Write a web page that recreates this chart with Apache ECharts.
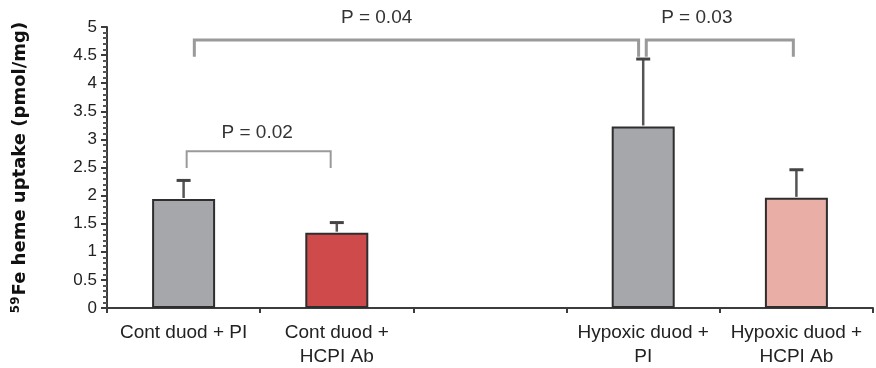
<!DOCTYPE html>
<html>
<head>
<meta charset="utf-8">
<script src="https://cdn.jsdelivr.net/npm/echarts@6/dist/echarts.min.js"></script>
<style>
  html, body { margin: 0; background: #fff; }
  #chart { width: 876px; height: 368px; }
</style>
</head>
<body>
<div id="chart"></div>
<script>
  const categories = ["Cont duod + PI", "Cont duod +\nHCPI Ab", "", "Hypoxic duod +\nPI", "Hypoxic duod +\nHCPI Ab"];
  const means = [1.94, 1.34, null, 3.23, 1.96];
  const upper = [2.27, 1.52, null, 4.43, 2.46];
  const barColors = ["#a6a7aa", "#cf4a4a", null, "#a6a7aa", "#e9aea5"];

  // significance brackets, x in category units (0..5)
  const bracketX0 = [0.52, 0.57, 3.52];
  const bracketX1 = [1.46, 3.47, 4.48];
  const bracketTop = [2.79, 4.77, 4.77];
  const bracketLeg = [2.49, 4.47, 4.47];
  const bracketText = ["P = 0.02", "P = 0.04", "P = 0.03"];
  const labelX = [0.98, 1.76, 3.85];
  const labelY = [3.11, 5.16, 5.16];

  const chart = echarts.init(document.getElementById("chart"));
  const FONT = "Liberation Sans, Arial, sans-serif";

  const barData = means.map((v, i) => v == null ? "-" : { value: v, itemStyle: { color: barColors[i] } });
  const errData = means.map((v, i) => v == null ? null : [i, v, upper[i]]).filter(Boolean);
  const brData = bracketText.map((t, i) => [bracketX0[i], bracketX1[i], bracketTop[i], bracketLeg[i], labelX[i], labelY[i], i]);

  chart.setOption({
    animation: false,
    grid: { left: 107, right: 3, top: 27, bottom: 60, outerBoundsMode: "none" },
    xAxis: [
      {
        type: "category", data: categories,
        axisLine: { lineStyle: { color: "#3c3c3c", width: 2 } },
        axisTick: { show: true, length: 5, lineStyle: { color: "#3c3c3c", width: 2 } },
        axisLabel: { fontFamily: FONT, fontSize: 19, color: "#222", margin: 13, lineHeight: 24, interval: 0 },
      },
      { type: "value", min: 0, max: 5, show: false },
    ],
    yAxis: {
      type: "value", min: 0, max: 5, interval: 0.5,
      name: "{sup|59}{b|Fe heme uptake (pmol/mg)}",
      nameLocation: "middle", nameGap: 77, nameRotate: 90,
      nameTextStyle: {
        rich: {
          sup: { fontFamily: "DejaVu Sans", fontWeight: "bold", fontSize: 12, color: "#111", verticalAlign: "top", padding: [0, 1, 8, 0] },
          b: { fontFamily: "DejaVu Sans", fontWeight: "bold", fontSize: 18, color: "#111" },
        },
      },
      axisLine: { show: true, lineStyle: { color: "#3c3c3c", width: 2 } },
      axisTick: { show: true, length: 6, lineStyle: { color: "#3c3c3c", width: 2 } },
      minorTick: { show: true, splitNumber: 5, length: 4, lineStyle: { color: "#555", width: 2 } },
      splitLine: { show: false },
      axisLabel: { fontFamily: FONT, fontSize: 17, color: "#222", margin: 10 },
    },
    series: [
      {
        type: "bar", data: barData, barWidth: 63,
        itemStyle: { borderColor: "#2e2e2e", borderWidth: 2 },
      },
      {
        type: "custom", data: errData, z: 3,
        renderItem(params, api) {
          const lo = api.coord([api.value(0), api.value(1)]);
          const hi = api.coord([api.value(0), api.value(2)]);
          return {
            type: "group",
            children: [
              { type: "line", shape: { x1: lo[0], y1: lo[1] - 1, x2: hi[0], y2: hi[1] }, style: { stroke: "#555", lineWidth: 2.5 } },
              { type: "line", shape: { x1: hi[0] - 7, y1: hi[1], x2: hi[0] + 7, y2: hi[1] }, style: { stroke: "#444", lineWidth: 3 } },
            ],
          };
        },
      },
      {
        type: "custom", data: brData, xAxisIndex: 1, z: 4, clip: false,
        renderItem(params, api) {
          const i = api.value(6);
          const a = api.coord([api.value(0), api.value(2)]);
          const b = api.coord([api.value(1), api.value(2)]);
          const legA = api.coord([api.value(0), api.value(3)]);
          const lp = api.coord([api.value(4), api.value(5)]);
          const w = i === 0 ? 2 : 3;
          return {
            type: "group",
            children: [
              {
                type: "polyline",
                shape: { points: [[a[0], legA[1]], a, b, [b[0], legA[1]]] },
                style: { stroke: "#9a9a9a", lineWidth: w, fill: null },
              },
              {
                type: "text", x: lp[0], y: lp[1],
                style: { text: bracketText[i], fontFamily: FONT, fontSize: 19, fill: "#333", align: "center", verticalAlign: "middle" },
              },
            ],
          };
        },
      },
    ],
  });
</script>
</body>
</html>
